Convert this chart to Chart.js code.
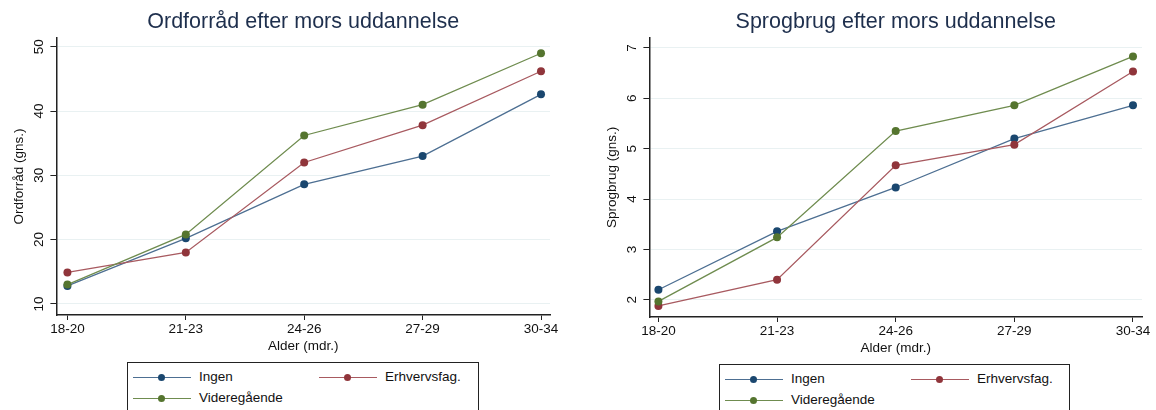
<!DOCTYPE html>
<html lang="da">
<head>
<meta charset="UTF-8">
<title>Ordforråd og sprogbrug efter mors uddannelse</title>
<script src="https://cdn.jsdelivr.net/npm/chart.js"></script>
<style>
    body { margin: 0; background: #fff; font-family: 'Liberation Sans', Arial, sans-serif; }
    .panel { position: absolute; top: 0; height: 360px; }
    .legend {
        position: absolute; border: 1px solid #222; background: #fff;
        height: 60px; font-size: 13.5px; color: #111;
    }
    .item { position: absolute; height: 16px; line-height: 16px; white-space: nowrap; }
    .sym { position: absolute; left: 0; top: 7.5px; width: 58px; height: 1.2px; }
    .sym i { position: absolute; left: 25px; top: -3px; width: 7px; height: 7px; border-radius: 50%; }
    .item span { position: absolute; left: 66px; top: 0; }
</style>
</head>
<body>
<div class="panel" style="left:0; width:578px;"><canvas id="left"></canvas></div>
<div class="panel" style="left:580px; width:576px;"><canvas id="right"></canvas></div>
<div class="legend" id="legLeft" style="left:127px; top:362px; width:350px;"></div>
<div class="legend" id="legRight" style="left:719px; top:364px; width:349px;"></div>

<script>
// categories (age groups, months)
var ageGroups = ['18-20', '21-23', '24-26', '27-29', '30-34'];
var groupNames = ['Ingen', 'Erhvervsfag.', 'Videregående'];

// Ordforråd (mean)
var vocabIngen = [12.8, 20.2, 28.6, 33.0, 42.6];
var vocabErhverv = [14.9, 18.0, 32.0, 37.8, 46.2];
var vocabVideregaaende = [13.0, 20.8, 36.2, 41.0, 49.0];

// Sprogbrug (mean)
var useIngen = [2.20, 3.36, 4.23, 5.20, 5.86];
var useErhverv = [1.88, 2.40, 4.67, 5.08, 6.53];
var useVideregaaende = [1.97, 3.24, 5.35, 5.86, 6.83];

var vocabTicks = [10, 20, 30, 40, 50];
var useTicks = [2, 3, 4, 5, 6, 7];

var markerColors = ['#1a476f', '#90353b', '#55752f'];
var lineColors = ['#4d6f92', '#a85a60', '#6f8c4f'];
var tickFont = { family: 'Liberation Sans', size: 13.5 };

function toPoints(values) {
    return values.map(function (v, i) { return { x: i, y: v }; });
}

// y tick labels turned 90 degrees and centred on their tick, Stata style
var verticalTicks = {
    id: 'verticalTicks',
    afterDraw: function (chart) {
        var s = chart.scales.y;
        var ctx = chart.ctx;
        ctx.save();
        ctx.font = tickFont.size + 'px ' + tickFont.family;
        ctx.fillStyle = '#111';
        ctx.textAlign = 'center';
        ctx.textBaseline = 'middle';
        s.ticks.forEach(function (t) {
            ctx.save();
            ctx.translate(s.right - 17, s.getPixelForValue(t.value));
            ctx.rotate(-Math.PI / 2);
            ctx.fillText(String(t.value), 0, 0);
            ctx.restore();
        });
        ctx.restore();
    }
};

function makeChart(id, title, yTitle, series, yTicks, yMin, yMax, xMin, xMax, pad) {
    var datasets = series.map(function (vals, k) {
        return {
            label: groupNames[k],
            data: toPoints(vals),
            borderColor: lineColors[k],
            backgroundColor: markerColors[k],
            pointBackgroundColor: markerColors[k],
            pointBorderColor: markerColors[k],
            pointRadius: 4,
            pointBorderWidth: 0,
            borderWidth: 1.3,
            tension: 0
        };
    });
    // draw in reverse so Ingen ends on top like the original
    datasets.reverse();

    return new Chart(document.getElementById(id), {
        type: 'line',
        data: { datasets: datasets },
        plugins: [verticalTicks],
        options: {
            responsive: true,
            maintainAspectRatio: false,
            animation: false,
            layout: { padding: pad },
            plugins: {
                legend: { display: false },
                tooltip: { enabled: false },
                title: {
                    display: true,
                    text: title,
                    fullSize: false,
                    color: '#1e2f4d',
                    font: { family: 'Liberation Sans', size: 21.5, weight: 'normal' },
                    padding: { top: 7, bottom: 3 }
                }
            },
            scales: {
                x: {
                    type: 'linear',
                    min: xMin,
                    max: xMax,
                    afterBuildTicks: function (axis) {
                        axis.ticks = ageGroups.map(function (g, i) { return { value: i }; });
                    },
                    ticks: {
                        callback: function (v) { return ageGroups[v]; },
                        color: '#111',
                        font: tickFont,
                        padding: 1,
                        maxRotation: 0
                    },
                    grid: { drawOnChartArea: false, tickLength: 5, tickColor: '#222', tickWidth: 1 },
                    border: { display: true, color: '#222', width: 1.5 },
                    title: {
                        display: true, text: 'Alder (mdr.)', color: '#111',
                        font: tickFont, padding: { top: 0, bottom: 0 }
                    }
                },
                y: {
                    min: yMin,
                    max: yMax,
                    afterBuildTicks: function (axis) {
                        axis.ticks = yTicks.map(function (v) { return { value: v }; });
                    },
                    ticks: {
                        // space is kept by the scale, the labels are drawn by verticalTicks
                        color: 'rgba(0,0,0,0)',
                        font: tickFont,
                        minRotation: 90,
                        maxRotation: 90,
                        padding: 3
                    },
                    grid: { color: '#e9f1f2', lineWidth: 1, tickLength: 6, tickColor: '#222' },
                    border: { display: true, color: '#222', width: 1.5 },
                    title: {
                        display: true, text: yTitle, color: '#111',
                        font: tickFont, padding: { top: 0, bottom: 1 }
                    }
                }
            }
        }
    });
}

makeChart('left', 'Ordforråd efter mors uddannelse', 'Ordforråd (gns.)',
    [vocabIngen, vocabErhverv, vocabVideregaaende], vocabTicks, 8.27, 51.4, -0.093, 4.076,
    { top: 2, right: 28, left: 11, bottom: 5.6 });
makeChart('right', 'Sprogbrug efter mors uddannelse', 'Sprogbrug (gns.)',
    [useIngen, useErhverv, useVideregaaende], useTicks, 1.66, 7.2, -0.076, 4.076,
    { top: 2, right: 14, left: 24, bottom: 3.6 });

function buildLegend(id) {
    var box = document.getElementById(id);
    var pos = [[5, 6], [191, 6], [5, 27]];
    groupNames.forEach(function (name, k) {
        var it = document.createElement('div');
        it.className = 'item';
        it.style.left = pos[k][0] + 'px';
        it.style.top = pos[k][1] + 'px';
        it.innerHTML = '<div class="sym" style="background:' + lineColors[k] + '"><i style="background:' +
            markerColors[k] + '"></i></div><span>' + name + '</span>';
        box.appendChild(it);
    });
}
buildLegend('legLeft');
buildLegend('legRight');
</script>
</body>
</html>
